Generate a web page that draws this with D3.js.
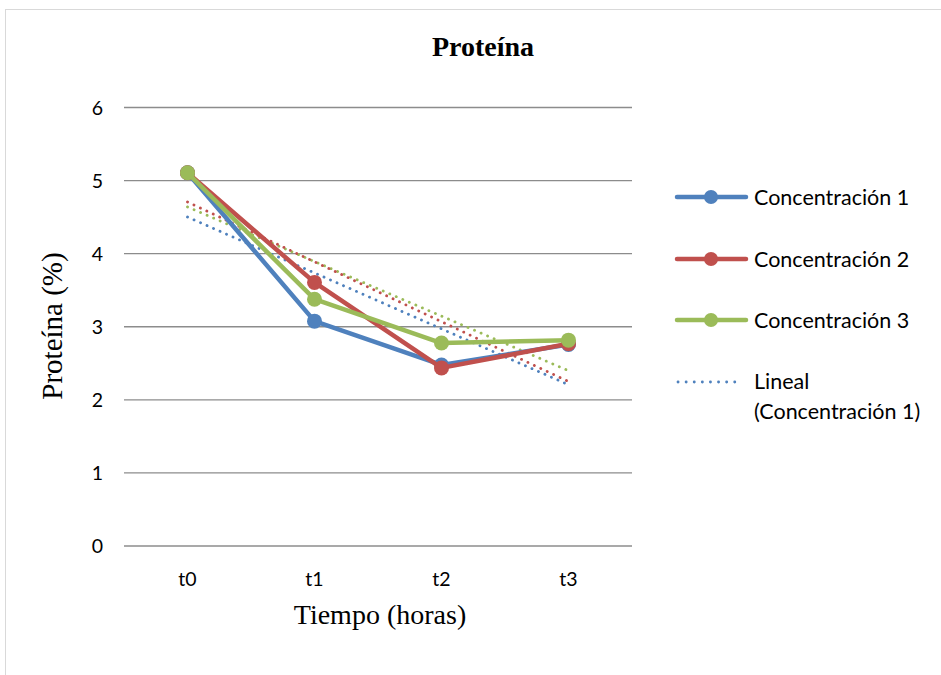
<!DOCTYPE html>
<html><head><meta charset="utf-8">
<script src="https://cdn.jsdelivr.net/npm/d3@7"></script>
<style>body{margin:0;background:#fff}svg{display:block}</style>
</head><body>
<script>
const categories = ["t0","t1","t2","t3"];
const conc1 = [5.1, 3.07, 2.47, 2.75];
const conc2 = [5.1, 3.6, 2.43, 2.76];
const conc3 = [5.1, 3.37, 2.77, 2.81];
const yTicks = [0,1,2,3,4,5,6];
const seriesNames = ["Concentración 1","Concentración 2","Concentración 3"];
const colors = ["#4F81BD","#C0504D","#9BBB59"];

const W=941,H=675;
const sans="Lato, 'Open Sans', sans-serif", serif="'Liberation Serif', serif";
const svg=d3.select("body").append("svg").attr("width",W).attr("height",H);
svg.append("rect").attr("x",5.5).attr("y",9.5).attr("width",W).attr("height",H).attr("fill","#fff").attr("stroke","#d9d9d9");

const x=d3.scaleBand().domain(categories).range([124,632]);
const y=d3.scaleLinear().domain([0,6]).range([545.5,107]);
const cx=c=>x(c)+x.bandwidth()/2;

svg.append("g").attr("transform","translate(124,0)")
 .call(d3.axisLeft(y).tickValues(yTicks).tickSize(-(632-124)).tickFormat(d3.format("d")))
 .call(g=>{g.select(".domain").remove();
   g.selectAll(".tick line").attr("stroke","#8c8c8c").attr("stroke-width",1.3);
   g.selectAll(".tick text").attr("x",-21).attr("dy","0.36em").attr("font-family",sans).attr("font-size",19.5).attr("fill","#000");});

svg.append("g").attr("transform","translate(0,545.5)")
 .call(d3.axisBottom(x).tickSize(0).tickPadding(0))
 .call(g=>{g.select(".domain").remove();
   g.selectAll(".tick text").attr("dy",0).attr("y",40).attr("font-family",sans).attr("font-size",19.5).attr("fill","#000");});

const all=[conc1,conc2,conc3];
// trendlines (least squares, as in spreadsheet "Lineal")
function fit(vals){const xs=vals.map((_,i)=>i);const mx=d3.mean(xs),my=d3.mean(vals);
 const b=d3.sum(xs,(xi,i)=>(xi-mx)*(vals[i]-my))/d3.sum(xs,xi=>(xi-mx)**2);return i=>my+b*(i-mx);}
const line=d3.line().x(d=>d[0]).y(d=>y(d[1]));
[2,1,0].forEach(k=>{const f=fit(all[k]);
 svg.append("path").datum([[cx(categories[0]),f(0)],[cx(categories[3]),f(3)]]).attr("d",line)
 .attr("fill","none").attr("stroke",colors[k]).attr("stroke-width",2.8).attr("stroke-linecap","round").attr("stroke-dasharray","0.1 7");});

all.forEach((vals,k)=>{
 const pts=vals.map((v,i)=>[cx(categories[i]),v]);
 svg.append("path").datum(pts).attr("d",line).attr("fill","none").attr("stroke",colors[k]).attr("stroke-width",4.5).attr("stroke-linejoin","round");
 svg.selectAll(null).data(pts).enter().append("circle").attr("cx",d=>d[0]).attr("cy",d=>y(d[1])).attr("r",7.5).attr("fill",colors[k]);
});

// titles
svg.append("text").attr("x",483).attr("y",56).attr("text-anchor","middle").attr("font-family",serif).attr("font-weight","bold").attr("font-size",28).text("Proteína");
svg.append("text").attr("x",380).attr("y",624).attr("text-anchor","middle").attr("font-family",serif).attr("font-size",28).text("Tiempo (horas)");
svg.append("text").attr("transform","translate(62,326) rotate(-90)").attr("text-anchor","middle").attr("font-family",serif).attr("font-size",29).text("Proteína (%)");

// legend
const lg=svg.append("g").attr("font-family",sans).attr("font-size",21.5);
const rowsY=[197,259,320];
seriesNames.forEach((n,k)=>{
 lg.append("line").attr("x1",677).attr("x2",746).attr("y1",rowsY[k]).attr("y2",rowsY[k]).attr("stroke",colors[k]).attr("stroke-width",4.5).attr("stroke-linecap","round");
 lg.append("circle").attr("cx",711).attr("cy",rowsY[k]).attr("r",7).attr("fill",colors[k]);
 lg.append("text").attr("x",754).attr("y",rowsY[k]+7.5).text(n);
});
lg.append("line").attr("x1",678).attr("x2",742).attr("y1",382).attr("y2",382).attr("stroke",colors[0]).attr("stroke-width",2.8).attr("stroke-linecap","round").attr("stroke-dasharray","0.1 8");
lg.append("text").attr("x",754).attr("y",389).text("Lineal");
lg.append("text").attr("x",754).attr("y",419).text("(Concentración 1)");
</script>
</body></html>
